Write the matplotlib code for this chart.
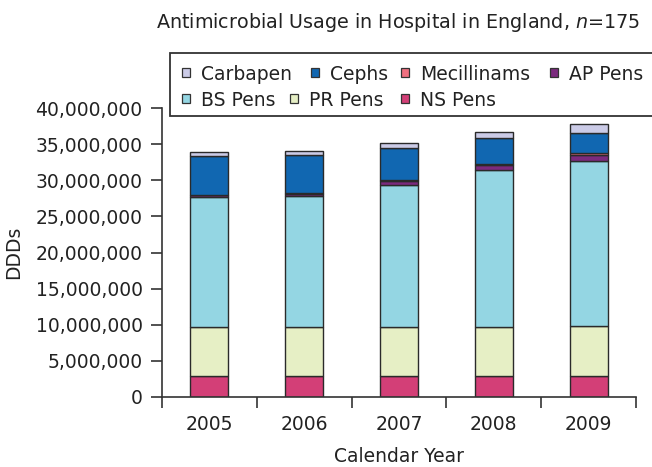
import matplotlib
matplotlib.use("Agg")
import matplotlib.pyplot as plt
import numpy as np
from matplotlib.ticker import FuncFormatter, FixedLocator
from matplotlib.patches import Rectangle

years = ["2005", "2006", "2007", "2008", "2009"]
# values in DDDs (stack order bottom -> top)
ns_pens = [2.9e6, 2.9e6, 2.9e6, 2.9e6, 2.9e6]
pr_pens = [6.8e6, 6.8e6, 6.8e6, 6.8e6, 6.9e6]
bs_pens = [18.0e6, 18.1e6, 19.7e6, 21.7e6, 22.9e6]
ap_pens = [0.2e6, 0.3e6, 0.5e6, 0.7e6, 0.8e6]
mecillinams = [0.1e6, 0.1e6, 0.2e6, 0.2e6, 0.25e6]
cephs = [5.3e6, 5.3e6, 4.4e6, 3.5e6, 2.85e6]
carbapen = [0.6e6, 0.6e6, 0.7e6, 0.9e6, 1.2e6]

names = ["NS Pens", "PR Pens", "BS Pens", "AP Pens", "Mecillinams", "Cephs", "Carbapen"]
values = [ns_pens, pr_pens, bs_pens, ap_pens, mecillinams, cephs, carbapen]
colors = ["#d33f77", "#e6efc5", "#94d6e3", "#7b2a7e", "#f07080", "#1167b1", "#cbcbe7"]

W, H = 652, 467
FS = 13.5
TXT = "#222222"
plt.rcParams['font.family'] = ['DejaVu Sans']
fig = plt.figure(figsize=(W / 100, H / 100), dpi=100)
ax = fig.add_axes([162 / W, 1 - 397 / H, (636 - 162) / W, (397 - 108) / H])

x = np.arange(len(years))
bottom = np.zeros(len(years))
for name, vals, col in zip(names, values, colors):
    ax.bar(x, vals, width=0.4, bottom=bottom, color=col,
           edgecolor="#2a2a2a", linewidth=1.0, label=name)
    bottom += np.array(vals)

ax.set_xlim(-0.5, 4.5)
ax.set_ylim(0, 40e6)
ax.yaxis.set_major_locator(FixedLocator(np.arange(0, 40e6 + 1, 5e6)))
ax.yaxis.set_major_formatter(FuncFormatter(lambda v, p: f"{int(v):,}"))
ax.set_xticks(x)
ax.set_xticklabels(years)
ax.set_xticks(np.arange(-0.5, 5.0, 1.0), minor=True)
ax.tick_params(axis='x', which='major', length=0, pad=13, labelsize=FS, colors=TXT)
ax.tick_params(axis='x', which='minor', length=8, width=1.2, direction='out', color="#333333")
ax.tick_params(axis='y', length=8, width=1.2, pad=6, direction='out', labelsize=FS,
               color="#333333", labelcolor=TXT)
for s in ["top", "right"]:
    ax.spines[s].set_visible(False)
for s in ["left", "bottom"]:
    ax.spines[s].set_linewidth(1.2)
    ax.spines[s].set_color("#333333")

fig.text(14 / W, 1 - 252 / H, "DDDs", rotation=90, ha="center", va="center",
         fontsize=FS, color=TXT)
fig.text(399 / W, 1 - 456 / H, "Calendar Year", ha="center", va="center",
         fontsize=FS, color=TXT)
fig.text(398 / W, 1 - 22 / H, "Antimicrobial Usage in Hospital in England, $n$=175",
         ha="center", va="center", fontsize=13.8, color=TXT)

# legend box (extends past right edge, as in the reference)
fig.patches.append(Rectangle((170 / W, 1 - 116 / H), (700 - 170) / W, (116 - 53) / H,
                             transform=fig.transFigure, facecolor="white",
                             edgecolor="#333333", linewidth=1.3, zorder=1))
# legend entries laid out in rows as in the reference
legend_rows = [
    (["Carbapen", "Cephs", "Mecillinams", "AP Pens"], [182, 311, 401, 550], 72.5),
    (["BS Pens", "PR Pens", "NS Pens"], [182, 290, 401], 98.5),
]
sq = 8
for labels, xs, yc in legend_rows:
    for lab, xh in zip(labels, xs):
        col = colors[names.index(lab)]
        fig.patches.append(Rectangle((xh / W, 1 - (yc + sq / 2) / H), sq / W, sq / H,
                                     transform=fig.transFigure, facecolor=col,
                                     edgecolor="#333333", linewidth=0.9, zorder=2))
        fig.text((xh + 19) / W, 1 - yc / H, lab, ha="left", va="center_baseline",
                 fontsize=FS, color=TXT, zorder=3)

fig.savefig("out.png", dpi=100)
